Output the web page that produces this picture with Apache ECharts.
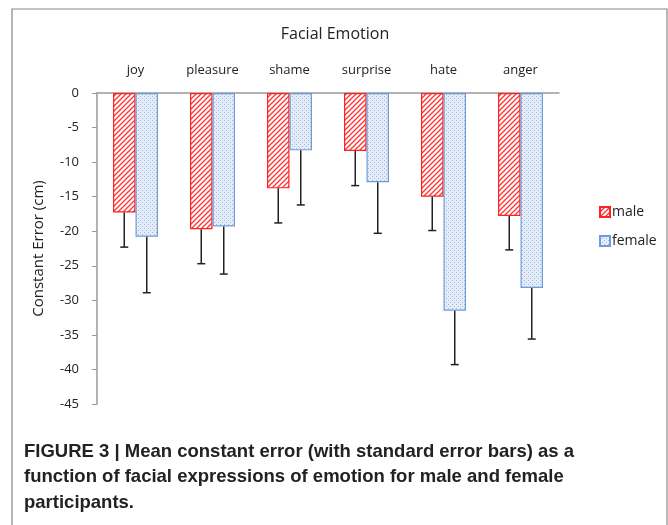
<!DOCTYPE html>
<html><head><meta charset="utf-8">
<script src="https://cdn.jsdelivr.net/npm/echarts@6/dist/echarts.min.js"></script>
<style>html,body{margin:0;padding:0;background:#fff}#c{width:668px;height:525px}</style>
</head><body><div id="c"></div>
<script>
const categories = ['joy','pleasure','shame','surprise','hate','anger'];
const maleMean = [-17.3, -19.7, -13.8, -8.4, -15.0, -17.8];
const femaleMean = [-20.8, -19.3, -8.3, -12.9, -31.5, -28.2];
const maleSE = [5.0, 5.0, 5.0, 5.0, 4.9, 4.9];
const femaleSE = [8.1, 6.9, 7.9, 7.4, 7.8, 7.4];
const yTicks = [0,-5,-10,-15,-20,-25,-30,-35,-40,-45];

function hatch(){
  const c=document.createElement('canvas');c.width=5;c.height=5;
  const g=c.getContext('2d');g.fillStyle='#fff';g.fillRect(0,0,5,5);
  g.strokeStyle='#ff3030';g.lineWidth=1.3;
  g.beginPath();g.moveTo(-1,6);g.lineTo(6,-1);g.moveTo(-1,1);g.lineTo(1,-1);g.moveTo(4,6);g.lineTo(6,4);g.stroke();
  return c;
}
function dots(){
  const c=document.createElement('canvas');c.width=4;c.height=4;
  const g=c.getContext('2d');g.fillStyle='#e3ecf8';g.fillRect(0,0,4,4);
  g.fillStyle='#9db9e2';g.fillRect(0,0,1,1);g.fillRect(2,2,1,1);
  return c;
}
const maleFill={image:hatch(),repeat:'repeat'};
const femaleFill={image:dots(),repeat:'repeat'};
const BW=22.5;
function errSeries(means, ses, dir){
  return {
    type:'custom', silent:true, z:5,
    data: means.map((m,i)=>[i,m,ses[i]]),
    renderItem:function(params,api){
      const i=api.value(0), m=api.value(1), s=api.value(2);
      const p0=api.coord([i,m]); const p1=api.coord([i,m-s]);
      const x=p0[0]+dir*BW/2;
      return {type:'group',children:[
        {type:'line',shape:{x1:x,y1:p0[1],x2:x,y2:p1[1]},style:{stroke:'#222',lineWidth:1.5}},
        {type:'line',shape:{x1:x-4,y1:p1[1],x2:x+4,y2:p1[1]},style:{stroke:'#222',lineWidth:1.5}}
      ]};
    }
  };
}
const chart=echarts.init(document.getElementById('c'));
chart.setOption({
  animation:false,
  title:{text:'Facial Emotion',left:330,textAlign:'center',top:21,textStyle:{fontFamily:'Open Sans',fontWeight:'normal',fontSize:16,color:'#222'}},
  grid:{left:97,right:109,top:93,bottom:121},
  legend:{orient:'vertical',left:594,top:200,itemWidth:10,itemHeight:10,itemGap:15,icon:'rect',
    textStyle:{fontFamily:'Open Sans',fontSize:14,color:'#222',padding:[0,0,0,-3]},
    data:['male','female']},
  xAxis:{type:'category',position:'top',data:categories,
    axisLine:{lineStyle:{color:'#999',width:1.5}},
    axisTick:{length:4,lineStyle:{color:'#999'}},
    axisLabel:{margin:16,fontFamily:'Open Sans',fontSize:13,color:'#222'}},
  yAxis:{type:'value',min:-45,max:0,interval:5,
    name:'Constant Error (cm)',nameLocation:'middle',nameGap:51,nameRotate:90,
    nameTextStyle:{fontFamily:'Open Sans',fontSize:15,color:'#222'},
    axisLine:{show:true,lineStyle:{color:'#999',width:1.5}},
    axisTick:{show:true,length:5,lineStyle:{color:'#999'}},
    splitLine:{show:false},
    axisLabel:{margin:18,fontFamily:'Open Sans',fontSize:13,color:'#222'}},
  series:[
    {name:'male',type:'bar',data:maleMean,barWidth:BW,barGap:'0%',
      itemStyle:{color:maleFill,borderColor:'#ff2020',borderWidth:1.2}},
    {name:'female',type:'bar',data:femaleMean,barWidth:BW,barGap:'0%',
      itemStyle:{color:femaleFill,borderColor:'#6f9bd8',borderWidth:1.2}},
    errSeries(maleMean,maleSE,-1),
    errSeries(femaleMean,femaleSE,1)
  ],
  graphic:[
    {type:'rect',shape:{x:12,y:9,width:655,height:530},style:{fill:'none',stroke:'#888',lineWidth:1.2},silent:true},
    {type:'text',left:24,top:439,style:{text:'FIGURE 3 | Mean constant error (with standard error bars) as a\nfunction of facial expressions of emotion for male and female\nparticipants.',
      font:'bold 18.5px "Liberation Sans", Arial, sans-serif',fill:'#222',lineHeight:25.5}}
  ]
});
</script></body></html>
